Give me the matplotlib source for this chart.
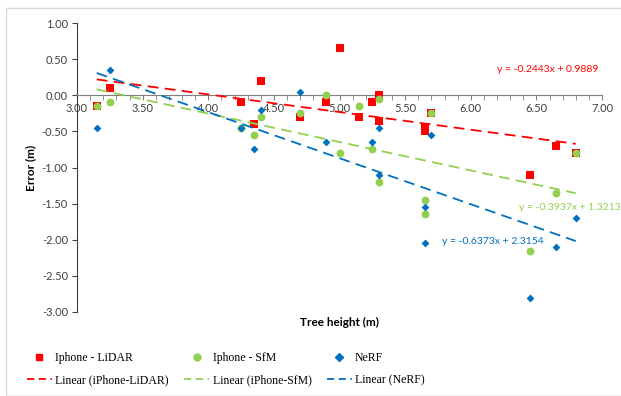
import matplotlib
matplotlib.use("Agg")
import matplotlib.pyplot as plt
import numpy as np
from matplotlib.lines import Line2D
from matplotlib.patches import Rectangle
from matplotlib.ticker import MultipleLocator

# ---- data ----
lidar_x = [3.15, 3.25, 4.25, 4.35, 4.40, 4.70, 4.90, 5.00, 5.15, 5.25, 5.30, 5.30, 5.65, 5.65, 5.70, 6.45, 6.65, 6.80]
lidar_y = [-0.15, 0.10, -0.10, -0.40, 0.20, -0.30, -0.10, 0.65, -0.30, -0.10, 0.00, -0.35, -0.44, -0.50, -0.25, -1.10, -0.70, -0.80]

sfm_x = [3.15, 3.25, 4.25, 4.35, 4.40, 4.70, 4.90, 5.00, 5.15, 5.25, 5.30, 5.30, 5.65, 5.65, 5.70, 6.45, 6.65, 6.80]
sfm_y = [-0.15, -0.10, -0.45, -0.55, -0.30, -0.25, 0.00, -0.80, -0.15, -0.75, -0.05, -1.20, -1.45, -1.65, -0.25, -2.15, -1.35, -0.80]

nerf_x = [3.15, 3.25, 4.25, 4.35, 4.40, 4.70, 4.90, 5.25, 5.30, 5.30, 5.65, 5.65, 5.70, 6.45, 6.65, 6.80]
nerf_y = [-0.45, 0.35, -0.45, -0.75, -0.20, 0.05, -0.65, -0.65, -0.45, -1.10, -1.55, -2.05, -0.55, -2.80, -2.10, -1.70]

# trendline coefficients (slope, intercept) as shown on chart
lidar_fit = [-0.2443, 0.9889]
sfm_fit = [-0.3937, 1.3213]
nerf_fit = [-0.6373, 2.3154]

x_ticks = [3.00, 3.50, 4.00, 4.50, 5.00, 5.50, 6.00, 6.50, 7.00]
y_ticks = [1.00, 0.50, 0.00, -0.50, -1.00, -1.50, -2.00, -2.50, -3.00]

RED = "#FF0000"
GREEN = "#92D050"
BLUE = "#0070C0"

plt.rcParams['font.family'] = ['Lato', 'DejaVu Sans']

fig = plt.figure(figsize=(6.21, 3.96), dpi=100)
fig.patches.append(Rectangle((6/621, 0), 1.2, 1 - 8/396, transform=fig.transFigure,
                             fill=False, edgecolor="#d9d9d9", linewidth=1.0))
ax = fig.add_axes([77/621, 1 - 312/396, (602 - 77)/621, (312 - 23)/396])

ax.scatter(lidar_x, lidar_y, marker='s', s=30, color=RED, zorder=3, linewidths=0)
ax.scatter(sfm_x, sfm_y, marker='o', s=32, color=GREEN, zorder=4, linewidths=0)
ax.scatter(nerf_x, nerf_y, marker='D', s=16, color=BLUE, zorder=5, linewidths=0)

dash = (0, (6, 3.5))
for xs, fit, c in [(lidar_x, lidar_fit, RED), (sfm_x, sfm_fit, GREEN), (nerf_x, nerf_fit, BLUE)]:
    xx = np.array([min(xs), max(xs)])
    ax.plot(xx, fit[0] * xx + fit[1], color=c, linestyle=dash, linewidth=1.3, zorder=6)

def eq(fit):
    return f"y = {fit[0]:.4f}x + {fit[1]:.4f}"

ax.text(6.20, 0.35, eq(lidar_fit), color=RED, fontsize=7.5, va='center', ha='left')
ax.text(6.37, -1.56, eq(sfm_fit), color=GREEN, fontsize=7.5, va='center', ha='left', clip_on=False)
ax.text(5.78, -2.02, eq(nerf_fit), color=BLUE, fontsize=7.5, va='center', ha='left')

ax.set_xlim(3.0, 7.0)
ax.set_ylim(-3.0, 1.0)
ax.set_xticks(x_ticks)
ax.set_yticks(y_ticks)
ax.set_xticklabels([f"{v:.2f}" for v in x_ticks])
ax.set_yticklabels([f"{v:.2f}" for v in y_ticks])
ax.xaxis.set_minor_locator(MultipleLocator(0.1))

for s in ['top', 'right']:
    ax.spines[s].set_visible(False)
ax.spines['bottom'].set_position(('data', 0))
ax.spines['bottom'].set_color('#7f7f7f')
ax.spines['left'].set_color('#404040')
ax.tick_params(axis='x', which='both', direction='out', length=3.5, color='#7f7f7f',
               labelsize=8, pad=2, labelcolor='#404040')
ax.tick_params(axis='y', direction='out', length=3.5, color='#404040', labelsize=8,
               labelcolor='#404040', pad=3)

ax.set_ylabel("Error (m)", fontsize=8.5, fontweight='bold', labelpad=4)
fig.text((77 + 602) / 2 / 621, 1 - 322/396, "Tree height (m)", fontsize=8.5,
         fontweight='bold', ha='center', va='center')

handles = [
    Line2D([], [], marker='s', linestyle='none', color=RED, markersize=5),
    Line2D([], [], color=RED, linestyle=(0, (4, 2.5)), linewidth=1.3),
    Line2D([], [], marker='o', linestyle='none', color=GREEN, markersize=5),
    Line2D([], [], color=GREEN, linestyle=(0, (4, 2.5)), linewidth=1.3),
    Line2D([], [], marker='D', linestyle='none', color=BLUE, markersize=4),
    Line2D([], [], color=BLUE, linestyle=(0, (4, 2.5)), linewidth=1.3),
]
labels = ["Iphone - LiDAR", "Linear (iPhone-LiDAR)", "Iphone - SfM",
          "Linear (iPhone-SfM)", "NeRF", "Linear (NeRF)"]
fig.legend(handles, labels, ncol=3, loc='upper left', bbox_to_anchor=(27/621, 1 - 352/396),
           frameon=False, prop={'family': 'Liberation Serif', 'size': 8.5},
           handlelength=2.1, handletextpad=0.3, columnspacing=1.3, labelspacing=0.85,
           borderaxespad=0, borderpad=0)

fig.savefig("out.png", dpi=100)
